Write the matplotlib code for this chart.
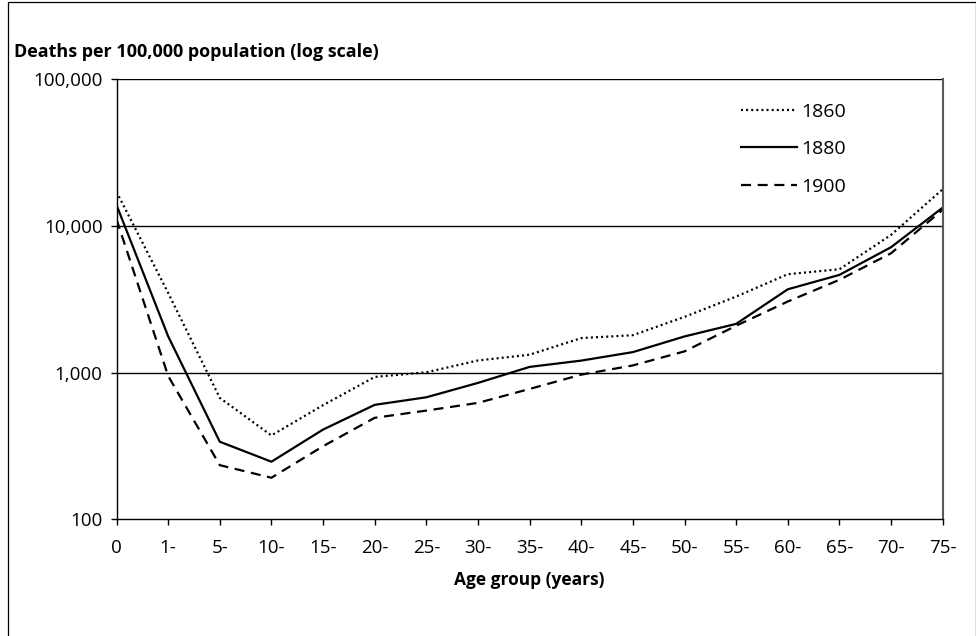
import matplotlib
matplotlib.use("Agg")
import matplotlib.pyplot as plt
from matplotlib.patches import Rectangle
from matplotlib.ticker import FixedLocator, NullLocator

plt.rcParams['font.family'] = ['Open Sans', 'DejaVu Sans']

age_groups = ["0", "1-", "5-", "10-", "15-", "20-", "25-", "30-", "35-", "40-",
              "45-", "50-", "55-", "60-", "65-", "70-", "75-"]
deaths_1860 = [17100, 3500, 673, 373, 600, 935, 1005, 1210, 1325, 1720,
               1800, 2400, 3300, 4690, 5070, 8690, 17800]
deaths_1880 = [13900, 1770, 338, 247, 409, 603, 679, 851, 1094, 1208,
               1380, 1765, 2150, 3700, 4640, 7165, 13340]
deaths_1900 = [11100, 950, 234, 192, 315, 492, 551, 622, 774, 969,
               1120, 1396, 2088, 3055, 4295, 6515, 12900]
y_ticks = [100, 1000, 10000, 100000]
y_tick_labels = ["100", "1,000", "10,000", "100,000"]

fig = plt.figure(figsize=(9.76, 6.36), dpi=100)
fig.patches.append(Rectangle((8/976, -0.01), (975.5-8)/976, (636-2)/636 + 0.01,
                             transform=fig.transFigure, fill=False,
                             edgecolor='black', linewidth=0.9))
ax = fig.add_axes([116.5/976, 1-519.3/636, (942.7-116.5)/976, (519.3-79.3)/636])

x = list(range(len(age_groups)))
ax.plot(x, deaths_1860, color='black', lw=1.6, linestyle=(0, (0.9, 1.4)), label='1860')
ax.plot(x, deaths_1880, color='black', lw=1.6, linestyle='-', label='1880')
ax.plot(x, deaths_1900, color='black', lw=1.6, linestyle=(0, (4.5, 3.0)), label='1900')

ax.set_yscale('log')
ax.set_ylim(100, 100000)
ax.set_xlim(0, len(age_groups) - 1)
ax.yaxis.set_major_locator(FixedLocator(y_ticks))
ax.yaxis.set_minor_locator(NullLocator())
ax.set_yticklabels(y_tick_labels)
ax.set_xticks(x)
ax.set_xticklabels(age_groups)

for v in [1000, 10000, 100000]:
    ax.axhline(v, color='black', lw=1.0, zorder=0.5)

ax.spines['top'].set_visible(False)
ax.spines['right'].set_color('#595959')
ax.spines['right'].set_linewidth(1.5)
ax.spines['left'].set_linewidth(1.0)
ax.spines['bottom'].set_linewidth(1.0)

ax.tick_params(axis='both', direction='out', length=4, width=1.0, labelsize=13.5)
ax.tick_params(axis='x', pad=10)
ax.tick_params(axis='y', pad=6)

ax.set_xlabel("Age group (years)", fontsize=12.5, fontweight='bold', labelpad=10)
fig.text(14/976, 1-52/636, "Deaths per 100,000 population (log scale)",
         fontsize=13, fontweight='bold', ha='left', va='center')

leg = ax.legend(loc='upper left', bbox_to_anchor=((733-116.5)/826.2, (519.3-95)/440),
                frameon=False, fontsize=14, handlelength=2.9, handletextpad=0.2,
                labelspacing=1.0, borderaxespad=0)

fig.savefig("out.png", dpi=100)
